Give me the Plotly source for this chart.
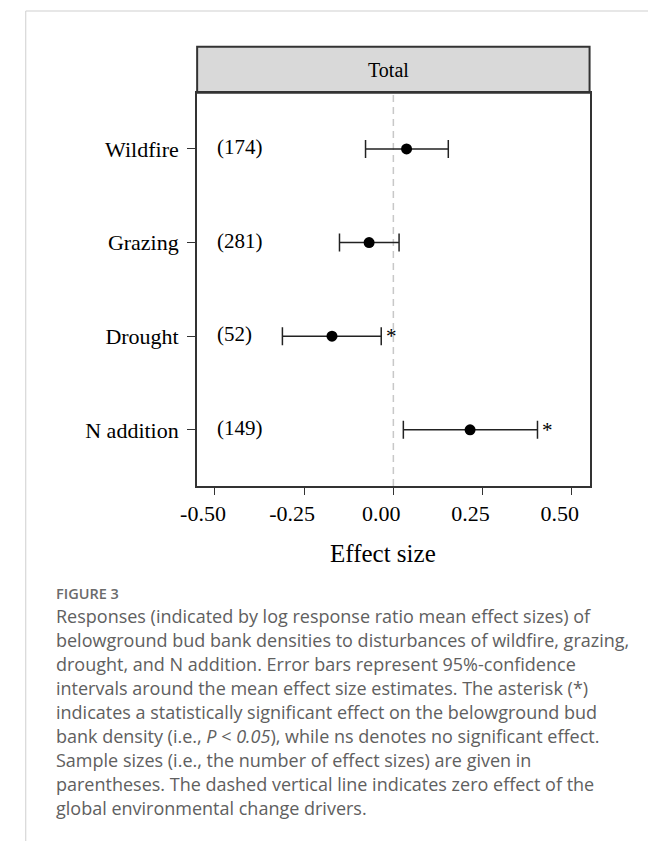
import plotly.graph_objects as go

# ---- data ----
categories = ["Wildfire", "Grazing", "Drought", "N addition"]
mean_effect = [0.037, -0.068, -0.172, 0.215]
ci_lower = [-0.078, -0.151, -0.311, 0.028]
ci_upper = [0.154, 0.016, -0.034, 0.404]
sample_sizes = [174, 281, 52, 149]
significance = ["", "", "*", "*"]
x_tick_vals = [-0.50, -0.25, 0.00, 0.25, 0.50]
x_tick_text = ["-0.50", "-0.25", "0.00", "0.25", "0.50"]
panel_title = "Total"
x_title = "Effect size"
caption_label = "FIGURE 3"
caption_lines = [
    "Responses (indicated by log response ratio mean effect sizes) of",
    "belowground bud bank densities to disturbances of wildfire, grazing,",
    "drought, and N addition. Error bars represent 95%-confidence",
    "intervals around the mean effect size estimates. The asterisk (*)",
    "indicates a statistically significant effect on the belowground bud",
    "bank density (i.e., <i>P</i> &lt; <i>0.05</i>), while ns denotes no significant effect.",
    "Sample sizes (i.e., the number of effect sizes) are given in",
    "parentheses. The dashed vertical line indicates zero effect of the",
    "global environmental change drivers.",
]

W, H = 648, 841
def px(x):
    return x / W
def py(y):
    return 1 - y / H

SERIF = "Liberation Serif, Times New Roman, serif"
SANS = "Open Sans, Noto Sans, sans-serif"

P_L, P_R, P_T, P_B = 185, 588, 92.7, 486
HDR_T = 46.7

fig = go.Figure()

fig.add_trace(go.Scatter(
    x=mean_effect,
    y=categories,
    mode="markers",
    marker=dict(color="black", size=11),
    error_x=dict(
        type="data", symmetric=False,
        array=[u - m for u, m in zip(ci_upper, mean_effect)],
        arrayminus=[m - l for m, l in zip(mean_effect, ci_lower)],
        color="#222222", thickness=1.5, width=9,
    ),
    showlegend=False,
    hoverinfo="skip",
))

annotations = []
# sample sizes
for cat, n in zip(categories, sample_sizes):
    annotations.append(dict(
        x=-0.5, y=cat, xref="x", yref="y", text=f"({n})", showarrow=False,
        xanchor="left", yanchor="middle", yshift=2,
        font=dict(family=SERIF, size=21, color="black"),
    ))
# significance asterisks
for cat, hi, s in zip(categories, ci_upper, significance):
    if s:
        annotations.append(dict(
            x=hi, y=cat, xref="x", yref="y", text=s, showarrow=False,
            xanchor="left", yanchor="middle", xshift=3, yshift=0,
            font=dict(family=SERIF, size=21, color="black"),
        ))

# panel strip title
annotations.append(dict(
    x=px(382), y=py((HDR_T + P_T) / 2), xref="paper", yref="paper",
    text=panel_title, showarrow=False, xanchor="center", yanchor="middle",
    font=dict(family=SERIF, size=20, color="black"),
))
# x axis title
annotations.append(dict(
    x=px(376), y=py(553), xref="paper", yref="paper",
    text=x_title, showarrow=False, xanchor="center", yanchor="middle",
    font=dict(family=SERIF, size=25, color="black"),
))
# caption
annotations.append(dict(
    x=px(38), y=py(593), xref="paper", yref="paper",
    text=caption_label, showarrow=False, xanchor="left", yanchor="middle",
    font=dict(family=SANS, size=14.5, color="#6b6b6b", weight=600),
))
for i, line in enumerate(caption_lines):
    annotations.append(dict(
        x=px(38), y=py(616 + 24 * i), xref="paper", yref="paper",
        text=line, showarrow=False, xanchor="left", yanchor="middle",
        font=dict(family=SANS, size=18, color="#606060"),
    ))

shapes = [
    # page frame lines
    dict(type="line", xref="paper", yref="paper", x0=px(9), x1=px(648), y0=py(11), y1=py(11),
         line=dict(color="#cfcfcf", width=1)),
    dict(type="line", xref="paper", yref="paper", x0=px(9), x1=px(9), y0=py(11), y1=py(841),
         line=dict(color="#cfcfcf", width=1)),
    # strip header
    dict(type="rect", xref="paper", yref="paper", x0=px(P_L), x1=px(P_R), y0=py(P_T), y1=py(HDR_T),
         fillcolor="#d9d9d9", line=dict(color="#333333", width=2), layer="below"),
    # zero line
    dict(type="line", xref="x", yref="paper", x0=0, x1=0, y0=py(P_B), y1=py(P_T),
         line=dict(color="#c8c8c8", width=1.5, dash="7px,5px"), layer="below"),
]

fig.update_layout(
    width=W, height=H,
    margin=dict(l=0, r=0, t=0, b=0),
    paper_bgcolor="white", plot_bgcolor="white",
    xaxis=dict(
        domain=[px(P_L), px(P_R)], range=[-0.55, 0.55],
        tickvals=x_tick_vals, ticktext=x_tick_text,
        ticks="outside", ticklen=7, tickwidth=1, tickcolor="#333333",
        showline=True, mirror=True, linecolor="#333333", linewidth=2,
        showgrid=False, zeroline=False,
        tickfont=dict(family=SERIF, size=22, color="black"),
        ticklabelshift=-12,
    ),
    yaxis=dict(
        domain=[py(P_B), py(P_T)],
        type="category", categoryorder="array", categoryarray=categories,
        range=[3.6, -0.6],
        ticks="outside", ticklen=8, tickwidth=1, tickcolor="#333333",
        showline=True, mirror=True, linecolor="#333333", linewidth=2,
        showgrid=False, zeroline=False,
        tickfont=dict(family=SERIF, size=22, color="black"),
        ticklabelstandoff=4,
    ),
    annotations=annotations,
    shapes=shapes,
)

fig.write_html("out.html")
